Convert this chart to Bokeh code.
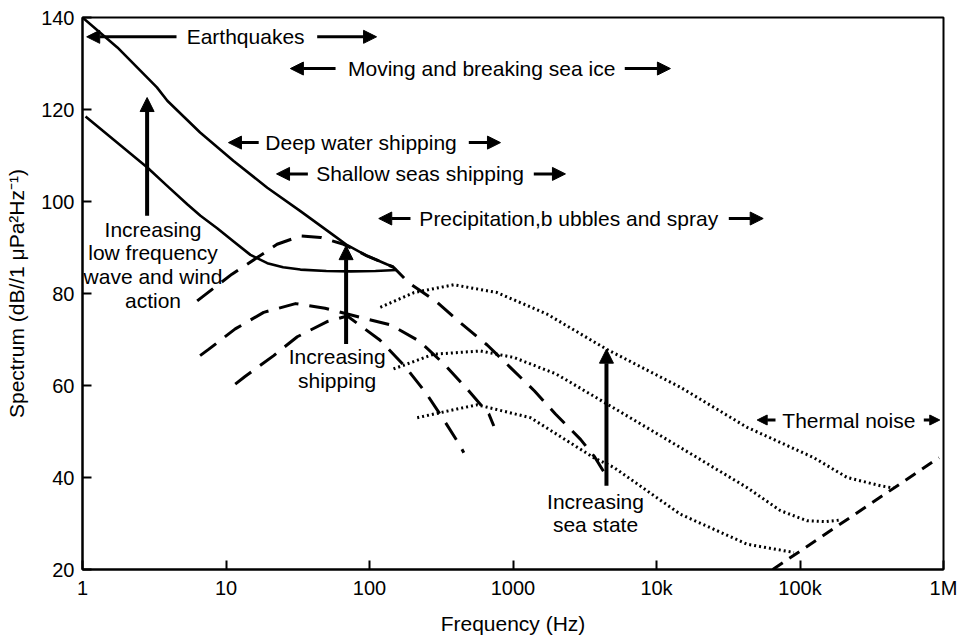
from bokeh.plotting import figure
from bokeh.models import Range1d, FixedTicker, Arrow, NormalHead
from bokeh.core.properties import value
from bokeh.embed import file_html
from bokeh.resources import INLINE

FONT = "Liberation Sans"

# ---- ambient noise spectra (frequency in Hz, level in dB) ----
# low frequency wave and wind action: upper and lower solid curves
wind_hi_f = [1.0, 1.75, 3.3, 3.9, 6.6, 11.3, 19.4, 33, 56, 70, 96, 133, 147]
wind_hi_db = [140, 133.5, 124.8, 121.9, 115.0, 108.8, 103.0, 97.9, 92.7, 90.5, 88.2, 86.3, 85.8]

wind_lo_f = [1.05, 2.83, 3.89, 5.37, 6.64, 8.68, 11.3, 14.8, 19.4, 25, 33, 50, 74, 110, 155]
wind_lo_db = [118.5, 107.4, 103.4, 99.4, 96.9, 94.2, 91.3, 88.4, 86.6, 85.7, 85.2, 84.9, 84.8,
              84.9, 85.1]

# shipping: three long-dashed curves
ship_hi_f = [6.3, 11, 16.5, 22.7, 33, 45.6, 66, 96, 147, 188, 288, 435, 661, 961,
             1413, 1976, 2955, 3700, 4400]
ship_hi_db = [78.4, 84.2, 87.8, 90.7, 92.5, 92.2, 90.7, 88.2, 85.7, 82.3, 78.4, 73.5,
              68.8, 63.9, 58.8, 53.8, 48.3, 44.5, 40.7]

ship_mid_f = [6.6, 7.6, 11.6, 18.3, 30.5, 49, 86.5, 140, 221, 330, 480, 679, 735]
ship_mid_db = [66.5, 67.9, 72.3, 75.9, 77.8, 76.8, 74.8, 73.2, 69.7, 64.7, 59.2, 53.8, 51.2]

ship_lo_f = [11.6, 13.5, 21.5, 31.4, 50.7, 70, 86.5, 118, 175, 246, 333, 424, 454]
ship_lo_db = [60.3, 61.9, 66.5, 70.6, 73.9, 75.1, 73.0, 69.9, 64.3, 58.5, 52.3, 47.1, 45.4]

# sea state: three dotted curves
sea_hi_f = [119, 204, 387, 775, 1730, 4480, 14700, 42800, 125000, 213000, 364000, 451000]
sea_hi_db = [77, 80.2, 81.9, 80.2, 75.5, 67.9, 59.6, 50.9, 44.3, 40.0, 38.2, 37.7]

sea_mid_f = [147, 280, 593, 1013, 2000, 4800, 14700, 42800, 73000, 112000, 150000, 195000]
sea_mid_db = [63.6, 66.8, 67.5, 66.1, 62.5, 55.5, 46.5, 37.8, 32.8, 30.6, 30.4, 30.8]

sea_lo_f = [215, 408, 563, 1325, 3660, 5040, 14700, 42800, 90700]
sea_lo_db = [53, 54.9, 55.8, 53, 44.3, 42.2, 32, 25.5, 23.7]

# thermal noise: short-dashed straight line
thermal_f = [64600, 930000]
thermal_db = [20, 44.3]

# ---- axis ticks ----
x_ticks = [1, 10, 100, 1000, 10000, 100000, 1000000]
x_tick_labels = ["1", "10", "100", "1000", "10k", "100k", "1M"]
y_ticks = [20, 40, 60, 80, 100, 120, 140]

# ---- source ranges: label, then arrows either side ----
range_labels = [
    "Earthquakes",
    "Moving and breaking sea ice",
    "Deep water shipping",
    "Shallow seas shipping",
    "Precipitation,b ubbles and spray",
    "Thermal noise",
]
# (y, text x, left tip, left tail, right tail, right tip, head size)
range_layout = [
    (135.8, 13.7, 1.07, 4.52, 43.2, 112, 13),
    (128.9, 605, 28.1, 58, 6010, 12500, 13),
    (112.8, 87.3, 10.4, 16.9, 492, 818, 13),
    (106.0, 225, 22.5, 37.2, 1396, 2320, 13),
    (96.3, 2448, 116, 193, 31900, 55400, 13),
    (52.5, 219000, 50300, 67500, 729000, 942000, 10),
]

# ---- "increasing" trend arrows and their captions ----
trend_captions = [
    ["Increasing", "low frequency", "wave and wind", "action"],
    ["Increasing", "shipping"],
    ["Increasing", "sea state"],
]
# (arrow x, arrow bottom, arrow top, caption x, caption line ys)
trend_layout = [
    (2.82, 96.9, 122.6, 3.10, [94.0, 88.9, 83.7, 78.5]),
    (68.7, 69.0, 90.4, 59.5, [66.2, 61.0]),
    (4480, 38.2, 67.9, 3757, [34.8, 29.7]),
]

p = figure(
    width=960, height=637,
    x_axis_type="log",
    x_range=Range1d(1, 1e6), y_range=Range1d(20, 140),
    output_backend="svg", toolbar_location=None,
    min_border_left=82, min_border_right=17, min_border_top=17, min_border_bottom=68,
    background_fill_color="white", border_fill_color="white",
)
p.grid.visible = False
p.outline_line_color = "black"
p.outline_line_width = 2
p.outline_line_alpha = 1

for ax in (p.xaxis[0], p.yaxis[0]):
    ax.axis_line_width = 2
    ax.major_tick_line_width = 2
    ax.major_tick_in = 9
    ax.major_tick_out = 0
    ax.minor_tick_line_color = None
    ax.major_label_text_font = FONT
    ax.major_label_text_font_size = "20px"
    ax.major_label_text_color = "black"
    ax.axis_label_text_font = FONT
    ax.axis_label_text_font_size = "21px"
    ax.axis_label_text_font_style = "normal"
    ax.axis_label_text_color = "black"

p.xaxis.ticker = FixedTicker(ticks=x_ticks)
p.xaxis.major_label_overrides = dict(zip(x_ticks, x_tick_labels))
p.xaxis.major_label_standoff = 7
p.xaxis.axis_label = "Frequency (Hz)"
p.xaxis.axis_label_standoff = 10

p.yaxis.ticker = FixedTicker(ticks=y_ticks)
p.yaxis.major_label_standoff = 8
p.yaxis.axis_label = "Spectrum (dB//1 \u03bcPa\u00b2Hz\u207b\u00b9)"
p.yaxis.axis_label_standoff = 10

# solid wind curves
p.line(wind_hi_f, wind_hi_db, line_color="black", line_width=2.6, line_join="round")
p.line(wind_lo_f, wind_lo_db, line_color="black", line_width=2.6, line_join="round")

# dashed shipping curves
for fx, dbs in ((ship_hi_f, ship_hi_db), (ship_mid_f, ship_mid_db), (ship_lo_f, ship_lo_db)):
    p.line(fx, dbs, line_color="black", line_width=3, line_dash="20 11", line_join="round")

# dotted sea-state curves
for fx, dbs in ((sea_hi_f, sea_hi_db), (sea_mid_f, sea_mid_db), (sea_lo_f, sea_lo_db)):
    p.line(fx, dbs, line_color="black", line_width=3, line_dash="2 3", line_join="round")

# thermal noise
p.line(thermal_f, thermal_db, line_color="black", line_width=3, line_dash="12 8")

# range annotations
for label, (y, tx, ltip, ltail, rtail, rtip, hs) in zip(range_labels, range_layout):
    for x0, x1 in ((ltail, ltip), (rtail, rtip)):
        p.add_layout(Arrow(
            end=NormalHead(size=hs, fill_color="black", line_color="black", line_width=1),
            x_start=x0, y_start=y, x_end=x1, y_end=y,
            line_color="black", line_width=3,
        ))
    p.text(x=[tx], y=[y], text=[label], text_font=value(FONT), text_font_size="21px",
           text_align="center", text_baseline="middle", text_color="black")

# trend arrows with captions
for lines, (ax_x, y0, y1, cx, cys) in zip(trend_captions, trend_layout):
    p.add_layout(Arrow(
        end=NormalHead(size=14, fill_color="black", line_color="black", line_width=1),
        x_start=ax_x, y_start=y0, x_end=ax_x, y_end=y1,
        line_color="black", line_width=4,
    ))
    p.text(x=[cx] * len(lines), y=cys, text=lines, text_font=value(FONT),
           text_font_size="21px", text_align="center", text_baseline="middle",
           text_color="black")

open("out.html", "w").write(file_html(p, INLINE))
